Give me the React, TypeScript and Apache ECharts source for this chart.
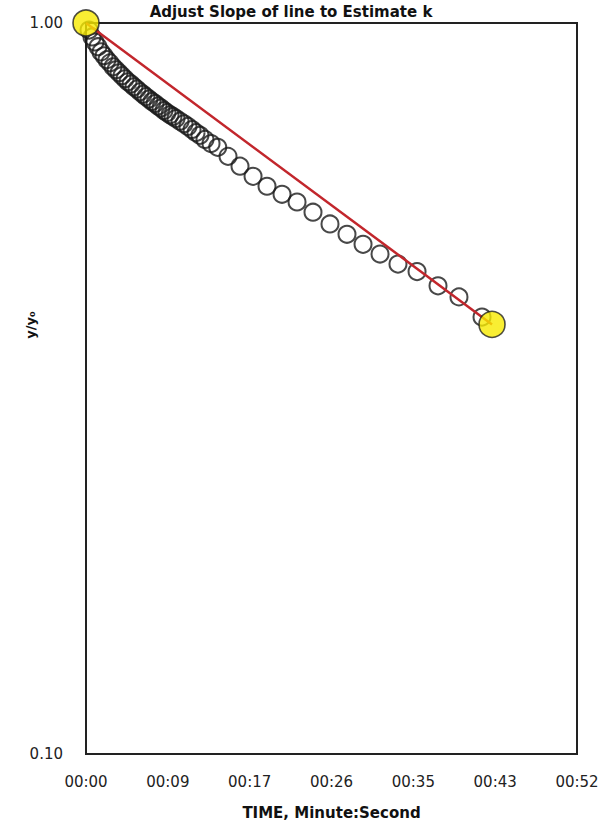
import React, { useEffect, useRef } from "react";
import * as echarts from "echarts";

const TITLE = "Adjust Slope of line to Estimate k";
const X_NAME = "TIME, Minute:Second";
const Y_NAME = "y/y\u2080";

// measured points: time (s) and y/y0
const obsTime = [
  0.32, 0.64, 0.95, 1.27, 1.59, 1.91, 2.22, 2.54, 2.86, 3.18, 3.5, 3.81, 4.13,
  4.45, 4.77, 5.08, 5.4, 5.72, 6.04, 6.35, 6.67, 6.99, 7.31, 7.63, 7.94, 8.26,
  8.58, 8.9, 9.21, 9.53, 9.96, 10.38, 10.8, 11.23, 11.65, 12.07, 12.6, 13.24,
  13.95, 15.04, 16.31, 17.69, 19.17, 20.76, 22.35, 24.04, 25.84, 27.64, 29.34,
  31.14, 33.04, 35.06, 37.28, 39.5, 41.94,
];
const obsRatio = [
  0.978, 0.957, 0.942, 0.928, 0.913, 0.902, 0.891, 0.882, 0.871, 0.863, 0.855,
  0.847, 0.839, 0.831, 0.825, 0.818, 0.812, 0.805, 0.799, 0.793, 0.787, 0.781,
  0.776, 0.77, 0.765, 0.759, 0.754, 0.749, 0.745, 0.74, 0.734, 0.728, 0.722,
  0.715, 0.708, 0.702, 0.693, 0.684, 0.676, 0.657, 0.637, 0.617, 0.598, 0.583,
  0.569, 0.551, 0.531, 0.514, 0.498, 0.483, 0.468, 0.457, 0.437, 0.422, 0.396,
];

// adjustable slope line end points (yellow handles)
const handleTime = [0, 43.0];
const handleRatio = [1.0, 0.387];

const X_MIN = 0;
const X_MAX = 52;
const X_INTERVAL = 52 / 6;

function fmtTime(v: number) {
  const s = Math.round(v);
  const m = Math.floor(s / 60);
  const ss = s % 60;
  return String(m).padStart(2, "0") + ":" + String(ss).padStart(2, "0");
}

export default function App() {
  const ref = useRef<HTMLDivElement>(null);
  useEffect(() => {
    if (!ref.current) return;
    const chart = echarts.init(ref.current, undefined, { renderer: "svg" });
    const font = "DejaVu Sans";
    chart.setOption({
      animation: false,
      backgroundColor: "#ffffff",
      grid: {
        left: 86,
        right: 30,
        top: 23,
        bottom: 68,
        show: true,
        borderColor: "#222",
        borderWidth: 2,
        backgroundColor: "transparent",
      },
      graphic: [
        {
          type: "text",
          x: 291,
          y: 19,
          style: {
            text: TITLE,
            fontFamily: font,
            fontWeight: "bold",
            fontSize: 15,
            fill: "#111",
            textAlign: "center",
            textVerticalAlign: "bottom",
          },
        },
        {
          type: "text",
          x: 30,
          y: 325,
          rotation: Math.PI / 2,
          style: {
            text: Y_NAME,
            fontFamily: font,
            fontWeight: "bold",
            fontSize: 13,
            fill: "#111",
            textAlign: "center",
            textVerticalAlign: "middle",
          },
        },
      ],
      xAxis: {
        type: "value",
        min: X_MIN,
        max: X_MAX,
        interval: X_INTERVAL,
        name: X_NAME,
        nameLocation: "middle",
        nameGap: 51,
        nameTextStyle: {
          fontFamily: font,
          fontWeight: "bold",
          fontSize: 15,
          color: "#111",
        },
        axisLine: { show: true, lineStyle: { color: "#222", width: 2 } },
        axisTick: { show: false },
        splitLine: { show: false },
        axisLabel: {
          formatter: (v: number) => fmtTime(v),
          margin: 20,
          fontFamily: font,
          fontSize: 15,
          color: "#222",
        },
      },
      yAxis: {
        type: "log",
        logBase: 10,
        min: 0.1,
        max: 1,
        axisLine: { show: true, lineStyle: { color: "#222", width: 2 } },
        axisTick: { show: false },
        splitLine: { show: false },
        axisLabel: {
          formatter: (v: number) => v.toFixed(2),
          margin: 23,
          fontFamily: font,
          fontSize: 15,
          color: "#222",
        },
      },
      series: [
        {
          type: "scatter",
          data: obsTime.map((t, i) => [t, obsRatio[i]]),
          symbol: "circle",
          symbolSize: 17,
          itemStyle: {
            color: "rgba(0,0,0,0)",
            borderColor: "#1a1a1a",
            borderWidth: 2,
          },
          z: 2,
        },
        {
          type: "line",
          data: handleTime.map((t, i) => [t, handleRatio[i]]),
          showSymbol: false,
          symbol: "none",
          lineStyle: { color: "#c2262c", width: 2.5 },
          z: 3,
        },
        {
          type: "scatter",
          data: handleTime.map((t, i) => [t, handleRatio[i]]),
          symbol: "circle",
          symbolSize: 26,
          itemStyle: {
            color: "#f7ea00",
            borderColor: "#222",
            borderWidth: 1.6,
          },
          z: 4,
        },
      ],
    });
    return () => chart.dispose();
  }, []);
  return (
    <div
      ref={ref}
      style={{ position: "absolute", left: 0, top: 0, width: 607, height: 825 }}
    />
  );
}
